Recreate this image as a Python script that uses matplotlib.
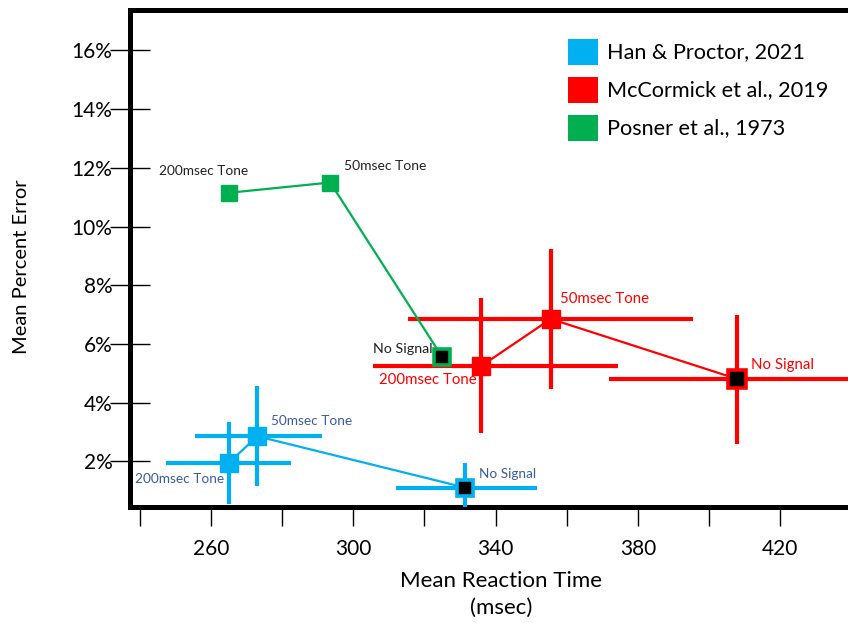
import matplotlib
matplotlib.use("Agg")
import matplotlib.pyplot as plt
from matplotlib.patches import Rectangle

plt.rcParams['font.family'] = ['Lato', 'DejaVu Sans']

# ---- data ----
conditions = ["200msec Tone", "50msec Tone", "No Signal"]

han_rt = [265.0, 273.0, 331.5]
han_err = [1.95, 2.85, 1.10]
han_rt_lo = [17.7, 17.6, 19.5]
han_rt_hi = [17.5, 18.2, 20.2]
han_err_sd = [1.40, 1.70, 0.85]

mcc_rt = [336.0, 355.5, 408.0]
mcc_err = [5.25, 6.85, 4.80]
mcc_rt_lo = [30.4, 40.2, 36.2]
mcc_rt_hi = [38.5, 40.0, 36.0]
mcc_err_sd = [2.30, 2.40, 2.20]

pos_rt = [265.0, 293.5, 325.0]
pos_err = [11.15, 11.50, 5.55]

studies = ["Han & Proctor, 2021", "McCormick et al., 2019", "Posner et al., 1973"]

y_ticks = [2, 4, 6, 8, 10, 12, 14, 16]
x_major = [260, 300, 340, 380, 420]
x_minor = [240, 280, 320, 360, 400, 440]

# ---- style ----
BLUE = "#00B0F0"
RED = "#FF0000"
GREEN = "#00B050"
BLUE_TXT = "#3B5BA5"

W, H = 848, 623
fig = plt.figure(figsize=(W / 100, H / 100), dpi=100)
ax = fig.add_axes([130 / W, 116 / H, 722 / W, 497 / H])
ax.set_xlim(237.2, 440.2)
ax.set_ylim(0.44, 17.38)

for s in ax.spines.values():
    s.set_linewidth(3.6)
    s.set_color("black")
ax.spines['right'].set_visible(False)

ax.set_yticks(y_ticks)
ax.set_yticklabels([f"{v}%" for v in y_ticks])
ax.tick_params(axis='y', direction='inout', length=29, width=1.0, pad=-2,
               labelsize=15)
ax.set_xticks(x_major)
ax.set_xticks(x_minor, minor=True)
ax.tick_params(axis='x', which='both', direction='out', length=14, width=1.0,
               pad=9, labelsize=15)


def draw_series(rt, err, color, rt_lo=None, rt_hi=None, err_sd=None, ms=13, z=3):
    if rt_lo is not None:
        ax.errorbar(rt, err, xerr=[rt_lo, rt_hi], yerr=err_sd, fmt='none',
                    ecolor=color, elinewidth=3.0, capsize=0, zorder=z)
    ax.plot(rt, err, color=color, lw=1.6, zorder=z + 0.1)
    ax.plot(rt[:2], err[:2], 's', color=color, ms=ms, zorder=z + 0.2)
    ax.plot(rt[2:], err[2:], 's', mfc="black", mec=color, mew=2.6, ms=ms - 1,
            zorder=z + 0.2)


draw_series(han_rt, han_err, BLUE, han_rt_lo, han_rt_hi, han_err_sd, ms=13)
draw_series(mcc_rt, mcc_err, RED, mcc_rt_lo, mcc_rt_hi, mcc_err_sd, ms=13.5)
draw_series(pos_rt, pos_err, GREEN, ms=12, z=5)


def label(rt, err, i, text, dx, dy, color, ha, size):
    ax.annotate(text, (rt[i], err[i]), xytext=(dx, dy), textcoords='offset points',
                ha=ha, va='center', color=color, fontsize=size, zorder=10)


# Posner labels
label(pos_rt, pos_err, 0, conditions[0], -18, 16, "#222222", 'center', 9.8)
label(pos_rt, pos_err, 1, conditions[1], 10, 12, "#222222", 'left', 10)
label(pos_rt, pos_err, 2, conditions[2], -7, 6, "#222222", 'right', 10.3)
# McCormick labels
label(mcc_rt, mcc_err, 0, conditions[0], -3, -10, RED, 'right', 10.8)
label(mcc_rt, mcc_err, 1, conditions[1], 6.5, 14.5, RED, 'left', 10.8)
label(mcc_rt, mcc_err, 2, conditions[2], 10, 10, RED, 'left', 10.8)
# Han & Proctor labels
label(han_rt, han_err, 0, conditions[0], -3.5, -11.5, BLUE_TXT, 'right', 9.8)
label(han_rt, han_err, 1, conditions[1], 10, 11, BLUE_TXT, 'left', 9.8)
label(han_rt, han_err, 2, conditions[2], 10, 10, BLUE_TXT, 'left', 9.8)

# legend: coloured squares with study names
for k, (name, col) in enumerate(zip(studies, [BLUE, RED, GREEN])):
    yc = 52 + 38 * k
    fig.patches.append(Rectangle((568 / W, 1 - (yc + 13) / H), 30 / W, 26 / H,
                                 transform=fig.transFigure, facecolor=col,
                                 edgecolor='none'))
    fig.text(607 / W, 1 - yc / H, name, fontsize=15.6, va='center', ha='left')

fig.text(501 / W, 1 - 581 / H, "Mean Reaction Time", fontsize=16, ha='center',
         va='center')
fig.text(501 / W, 1 - 608 / H, "(msec)", fontsize=16, ha='center', va='center')
fig.text(22 / W, 1 - 267 / H, "Mean Percent Error", fontsize=14.5, rotation=90,
         ha='center', va='center')

fig.savefig("out.png", dpi=100)
